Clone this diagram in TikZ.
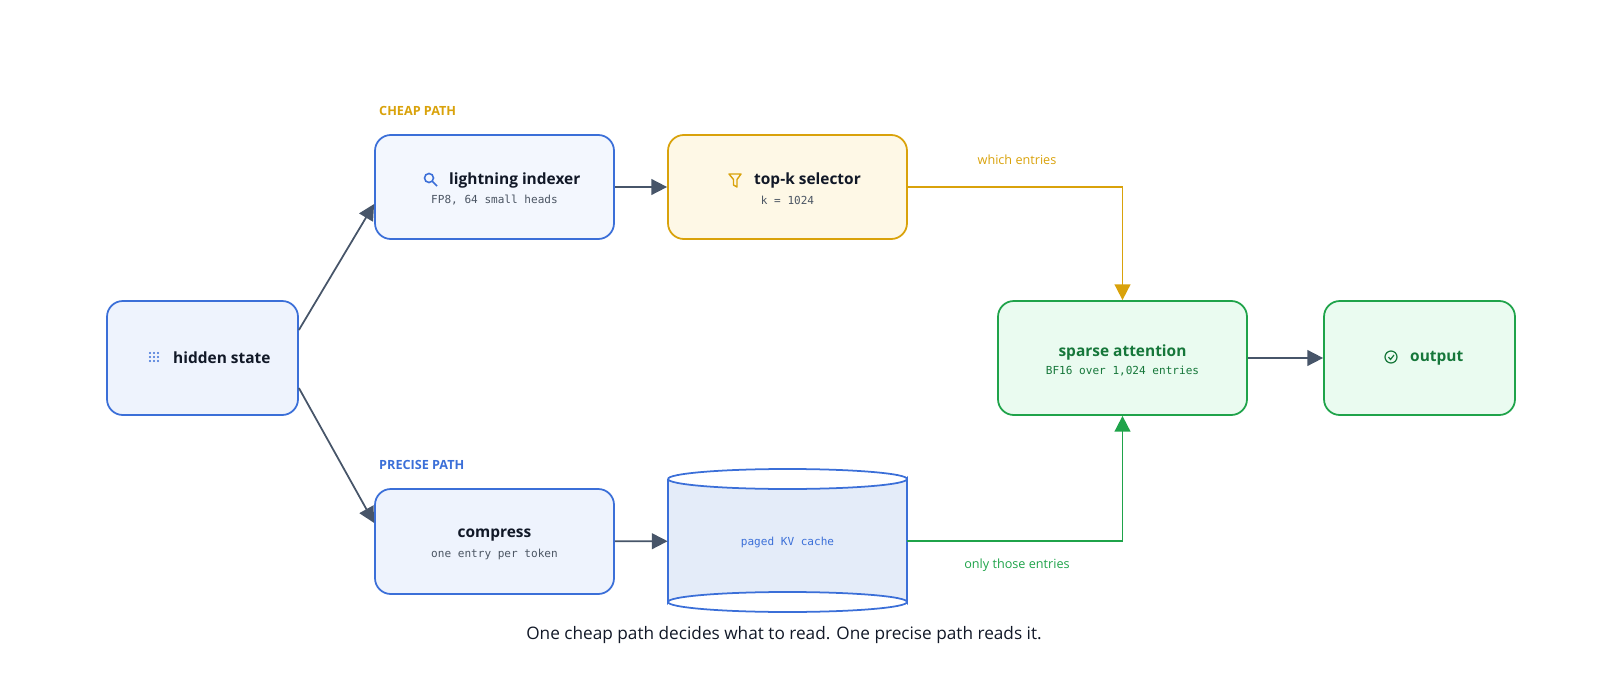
\documentclass[tikz,border=0pt]{standalone}
\usepackage{fontspec}
\setmainfont{Open Sans}
\newfontfamily\monof{DejaVu Sans Mono}
\usetikzlibrary{arrows.meta,calc}
\definecolor{bluE}{HTML}{3B6FD8}
\definecolor{blueF}{HTML}{EEF3FD}
\definecolor{blueF2}{HTML}{E4ECF9}
\definecolor{goldE}{HTML}{D9A20B}
\definecolor{goldF}{HTML}{FEF8E6}
\definecolor{grnE}{HTML}{1FA34A}
\definecolor{grnF}{HTML}{EAFBF0}
\definecolor{grnT}{HTML}{16773A}
\definecolor{ink}{HTML}{111827}
\definecolor{arr}{HTML}{475569}
\definecolor{sub}{HTML}{4B5563}
\begin{document}
\begin{tikzpicture}[x=0.02cm,y=-0.02cm,
 box/.style={draw,line width=1pt,rounded corners=9pt,align=center,inner sep=0pt},
 bl/.style={box,draw=bluE,fill=blueF},
 gd/.style={box,draw=goldE,fill=goldF},
 gr/.style={box,draw=grnE,fill=grnF},
 ttl/.style={font=\fontsize{8.8}{10}\selectfont\bfseries},
 mono/.style={font=\monof\fontsize{6.3}{8}\selectfont},
 con/.style={draw=arr,line width=1pt,-{Triangle[length=9pt,width=9pt]}},
 lab/.style={font=\fontsize{7.2}{9}\selectfont},
]
\node[bl,minimum width=191*0.02cm,minimum height=114*0.02cm] (hid) at (202.5,358) {};
\node[ttl,text=ink,anchor=west] (hidt) at (167,358) {hidden state};
\foreach \i in {0,1,2}\foreach \j in {0,1,2}\fill[bluE] (150+\i*4,353+\j*4) circle (1.1);
\node[bl,fill=blueF!70!white,minimum width=239*0.02cm,minimum height=104*0.02cm] (idx) at (494.5,187) {};
\node[ttl,text=ink,anchor=west] at (443,180) {lightning indexer};
\draw[bluE,line width=0.9pt] (429,178) circle (4.5) (432.5,181.5) -- (437,186);
\node[mono,text=sub] at (494.5,200) {FP8, 64 small heads};
\node[gd,minimum width=239*0.02cm,minimum height=104*0.02cm] (topk) at (787.5,187) {};
\node[ttl,text=ink,anchor=west] at (748,180) {top-k selector};
\draw[goldE,line width=0.8pt,line join=round] (729,174)--(741,174)--(737,179.5)--(737,187)--(733.5,185)--(733.5,179.5)--cycle;
\node[mono,text=sub] at (787.5,200) {k = 1024};
\node[bl,minimum width=239*0.02cm,minimum height=105*0.02cm] (cmp) at (494.5,541.5) {};
\node[ttl,text=ink] at (494.5,535) {compress};
\node[mono,text=sub] at (494.5,554) {one entry per token};
% cylinder
\node[minimum width=239*0.02cm,minimum height=123*0.02cm,inner sep=0pt] (kv) at (787.5,541) {};
\draw[bluE,line width=1pt,fill=blueF2] (668,479) -- (668,602) arc[start angle=180,end angle=360,x radius=119.5,y radius=10] -- (907,479) arc[start angle=0,end angle=180,x radius=119.5,y radius=10];
\draw[bluE,line width=1pt] (668,479) arc[start angle=180,end angle=360,x radius=119.5,y radius=10];
\draw[bluE,line width=1pt] (668,602) arc[start angle=180,end angle=0,x radius=119.5,y radius=10];
\node[mono,text=bluE] at (787.5,542) {paged KV cache};
\node[gr,minimum width=249*0.02cm,minimum height=114*0.02cm] (sp) at (1122.5,358) {};
\node[ttl,text=grnT] at (1122.5,352) {sparse attention};
\node[mono,text=grnT] at (1122.5,371) {BF16 over 1,024 entries};
\node[gr,minimum width=191*0.02cm,minimum height=114*0.02cm] (out) at (1419.5,358) {};
\node[ttl,text=grnT,anchor=west] at (1404,358) {output};
\draw[grnT,line width=0.7pt] (1391,357) circle (6);
\draw[grnT,line width=0.7pt] (1388.5,357)--(1390.5,359.5)--(1394,355);
% labels
\node[font=\fontsize{7.2}{9}\selectfont\bfseries,text=goldE,anchor=west] at (373,111) {CHEAP PATH};
\node[font=\fontsize{7.2}{9}\selectfont\bfseries,text=bluE,anchor=west] at (373,465) {PRECISE PATH};
\node[lab,text=goldE] at (1017,160) {which entries};
\node[lab,text=grnE] at (1017,565) {only those entries};
\node[font=\fontsize{9.8}{11}\selectfont,text=ink] at (784,635) {One cheap path decides what to read. One precise path reads it.};
% connectors
\draw[con] ($(hid.east)+(0,-28)$) -- (idx.west |- 0,204);
\draw[con] ($(hid.east)+(0,30)$) -- (cmp.west |- 0,523);
\draw[con] (idx) -- (topk);
\draw[con] (cmp) -- (kv);
\draw[con] (sp) -- (out);
\draw[con,draw=goldE,-{Triangle[length=9pt,width=9pt,fill=goldE]}] (topk.east) -- (1122.5,187) -- (sp.north);
\draw[con,draw=grnE,line width=1pt,-{Triangle[length=9pt,width=9pt,fill=grnE]}] (kv.east) -- (1122.5,541) -- (sp.south);
\pgfresetboundingbox
\path[use as bounding box] (0,0) rectangle (1600,686);
\end{tikzpicture}
\end{document}
